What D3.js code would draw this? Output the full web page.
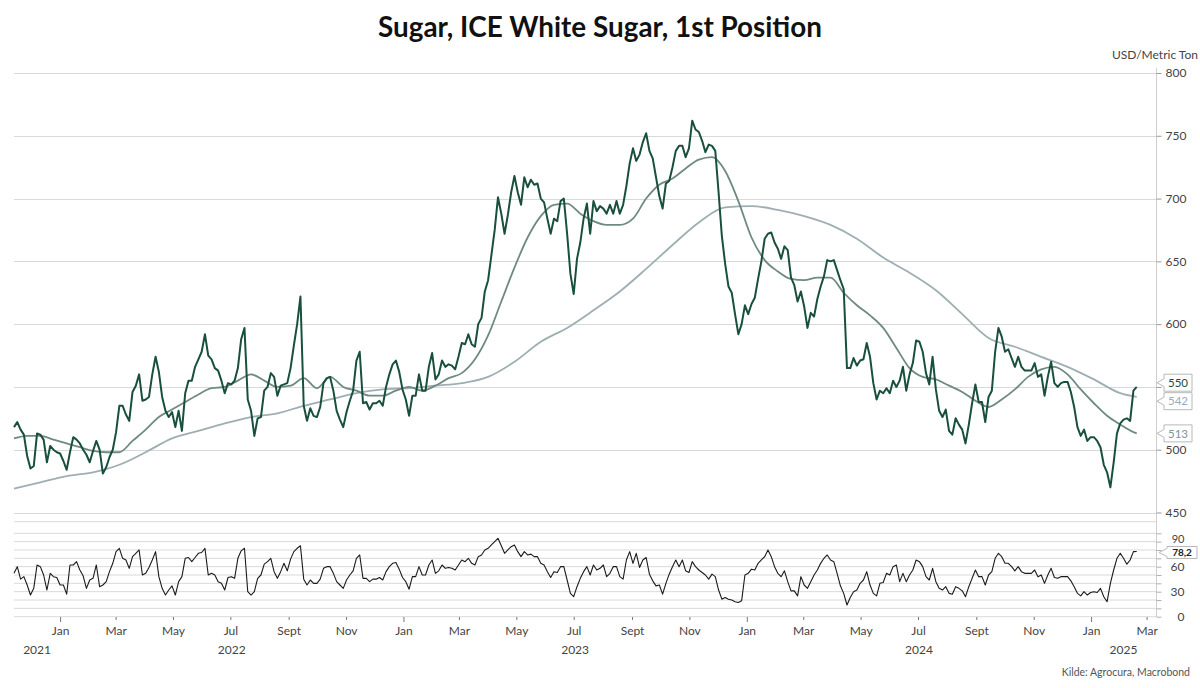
<!DOCTYPE html>
<html><head><meta charset="utf-8">
<script src="https://cdn.jsdelivr.net/npm/d3@7"></script>
<style>
body{margin:0;background:#fff;}
svg{display:block;font-family:Lato,"Open Sans",sans-serif;}
</style>
</head><body>
<svg id="chart" width="1200" height="688"></svg>
<script>
// ---------- DATA ----------
const title = "Sugar, ICE White Sugar, 1st Position";
const unitLabel = "USD/Metric Ton";
const sourceLabel = "Kilde: Agrocura, Macrobond";
const startDate = "2021-11-13";   // first observation
const stepDays = 3.5;             // spacing of observations

// ICE White Sugar, 1st position (USD/t)
const price = [
518,522,516,512,495,485,487,513,512,508,
490,503,500,498,497,491,484,498,510,508,
505,500,496,490,499,507,500,481,486,494,
500,514,535,535,528,523,546,551,560,539,
540,542,560,574,562,542,531,526,530,518,
531,515,545,555,555,566,572,578,592,575,
572,565,563,555,545,553,552,555,565,588,
597,540,531,511,525,526,547,550,561,558,
543,551,552,553,565,583,600,622,
535,523,533,527,526,534,553,557,558,547,
531,524,518,530,539,547,571,578,537,538,
532,537,537,539,535,550,560,568,571,562,
548,540,527,543,543,560,547,547,566,577,
556,560,571,566,568,567,564,574,585,584,
592,584,582,600,605,626,635,655,675,701,
688,672,687,705,718,705,695,717,709,715,
711,712,700,697,684,672,684,682,698,700,
672,640,624,652,665,684,696,672,698,690,
694,692,688,695,688,698,688,695,
710,728,740,730,735,745,752,738,732,717,
702,692,712,714,725,738,742,742,733,740,
762,755,753,746,737,743,742,738,705,670,
648,630,625,608,592,600,615,608,616,621,
636,650,668,672,673,665,660,652,662,659,
637,631,618,626,614,597,609,606,620,630,
638,651,650,651,643,635,
628,565,565,573,567,571,572,585,574,553,
540,547,545,549,545,555,550,555,566,547,
560,569,587,586,578,561,552,574,548,531,
526,532,515,512,525,520,516,505,520,537,
552,538,538,522,542,547,578,597,590,578,
580,573,566,574,566,563,563,563,569,558,
560,543,558,570,553,550,553,554,554,546,
534,518,511,516,507,510,510,507,502,488,
482,470,490,513,521,524,525,523,547,550
];

// RSI (lower panel), same dates as price
const rsi = [
52,60,45,48,38,26,34,62,60,50,
32,52,48,47,38,38,27,62,62,66,
56,49,34,44,46,62,36,38,42,54,
64,78,82,70,68,58,72,76,80,50,
52,59,68,78,48,34,26,32,37,26,
42,48,70,71,66,71,76,77,82,50,
52,50,42,40,32,47,48,46,70,79,
82,30,26,30,46,50,63,66,70,54,
46,54,64,55,69,78,82,85,
45,38,44,40,40,45,58,60,60,52,
42,38,34,44,50,55,70,74,46,46,
42,45,45,47,44,54,60,64,65,57,
47,42,33,48,48,60,50,50,62,68,
52,55,62,58,59,58,56,62,68,66,
70,64,62,72,74,80,82,86,90,94,
85,76,80,84,86,78,72,78,74,75,
72,72,64,62,54,47,54,53,60,60,
44,28,24,36,46,54,60,50,62,56,
58,
62,48,52,60,60,48,45,68,78,64,
76,59,68,71,51,43,37,38,27,40,
51,60,68,60,68,55,53,66,60,56,
53,50,45,51,48,32,21,23,21,20,
18,17,19,50,52,57,56,64,68,72,
80,72,60,52,48,55,42,31,31,25,
48,38,34,42,50,56,64,70,74,68,
66,52,37,28,14,23,30,32,40,44,
54,38,28,25,40,41,52,50,60,62,
42,
52,42,50,56,68,66,60,48,44,58,
42,34,32,36,28,27,36,34,31,24,
36,46,56,48,48,38,50,54,70,76,
72,64,64,60,55,60,54,52,52,52,
56,48,50,40,50,58,47,46,48,48,
48,43,36,28,25,30,26,29,30,29,
34,24,18,40,56,70,76,70,63,68,
78,78.2
];

// Short moving average: observation index and value
const fastIdx = [0,4,8,12,16,20,24,28,32,36,40,44,48,52,56,60,64,68,72,76,80,84,88,92,96,100,104,108,112,116,120,124,128,132,136,140,144,148,152,156,160,164,168,172,176,180,184,188,192,196,200,204,208,212,216,220,224,228,232,236,240,244,248,252,256,260,264,268,272,276,280,284,288,292,296,300,304,308,312,316,320,324,328,332,336,340,341];
const fastMA = [
509,511,511,508,505,502,499,498,498,507,
516,526,532,538,544,549,550,555,560,555,
550,551,557,549,558,550,547,543,543,547,
550,547,551,557,561,572,591,618,645,669,
686,695,696,688,682,679,679,684,700,711,
716,724,731,733,722,698,669,651,642,636,
635,637,637,625,615,607,597,581,565,558,
556,551,546,539,534,540,548,558,564,566,
560,548,537,527,520,514,513
];

// Long moving average: observation index and value
const slowIdx = [0,8,16,24,32,40,48,56,64,72,80,88,96,104,112,120,128,136,144,152,160,168,176,184,192,200,208,216,224,232,240,248,256,264,272,280,288,296,304,312,320,328,336,341];
const slowMA = [
469,474,479,482,488,498,509,515,521,526,
529,535,540,545,548,549,551,553,558,570,
586,597,611,626,644,663,681,693,694,691,
686,679,668,653,641,627,608,589,582,574,
566,556,545,542
];

const mainTicks = [450,500,550,600,650,700,750,800];
const rsiTicks = [0,30,60,90];
const rsiGrid = [0,10,20,30,40,50,60,70,80,90,100];
const monthNames = ["Jan","Feb","Mar","Apr","May","Jun","Jul","Aug","Sept","Oct","Nov","Dec"];
const years = [2021,2022,2023,2024,2025];
const axisStart = "2021-11-13", axisEnd = "2025-03-11";

// ---------- STYLE ----------
const C = {price:"#19503d", fast:"#6f8a80", slow:"#9eaeb3", rsi:"#1b1b1b", grid:"#d9d9d9", text:"#444"};

const svg = d3.select("#chart");
const t0 = new Date(startDate+"T00:00:00Z");
const dateOf = i => new Date(t0.getTime() + i*stepDays*864e5);

const x = d3.scaleUtc().domain([new Date(axisStart+"T00:00:00Z"), new Date(axisEnd+"T00:00:00Z")]).range([14,1156]);
const y = d3.scaleLinear().domain([450,800]).range([512.5,73]);
const yr = d3.scaleLinear().domain([0,100]).range([616.7,533.3]);
const axisX = 1156.5;

// end-label layout (computed early so covered tick labels can be skipped)
const lastP = price[price.length-1], lastS = slowMA[slowMA.length-1], lastF = fastMA[fastMA.length-1];
let labs = [{v:lastP,c:C.price},{v:lastS,c:"#98acbf"},{v:lastF,c:"#7d93a3"}]
  .map(d=>({...d, yy:y(d.v)})).sort((a,b)=>a.yy-b.yy);
for(let k=1;k<labs.length;k++){
  if(labs[k].yy-labs[k-1].yy<18.5){
    const mid=(labs[k].yy+labs[k-1].yy)/2; labs[k-1].yy=mid-9.25; labs[k].yy=mid+9.25;
  }
}
const covered = v => labs.some(l=>Math.abs(y(v)-l.yy)<12);

// Title
const tt = svg.append("text").attr("x",600).attr("y",37).attr("text-anchor","middle")
  .attr("font-weight",700).attr("font-size",26).attr("fill","#111").text(title);
const w = tt.node().getComputedTextLength();
tt.attr("font-size", 26*444/w);

svg.append("text").attr("x",1198).attr("y",59).attr("text-anchor","end")
  .attr("font-size",12).attr("fill",C.text).text(unitLabel);

// main gridlines
svg.append("g").selectAll("line").data(mainTicks).join("line")
  .attr("x1",14).attr("x2",axisX).attr("y1",d=>Math.round(y(d))+0.5).attr("y2",d=>Math.round(y(d))+0.5)
  .attr("stroke",C.grid).attr("stroke-width",1);
// lower gridlines
svg.append("g").selectAll("line").data(rsiGrid).join("line")
  .attr("x1",14).attr("x2",axisX).attr("y1",d=>yr(d)).attr("y2",d=>yr(d))
  .attr("stroke",C.grid).attr("stroke-width",1);
svg.append("line").attr("x1",14).attr("x2",axisX).attr("y1",521.7).attr("y2",521.7)
  .attr("stroke",C.grid);

// right axis line
svg.append("line").attr("x1",axisX).attr("x2",axisX).attr("y1",68).attr("y2",617)
  .attr("stroke","#cfcfcf");

// right axis main
const ax1 = svg.append("g").attr("transform",`translate(${axisX},0)`)
  .call(d3.axisRight(y).tickValues(mainTicks).tickSize(5).tickPadding(8)
    .tickFormat(d=>covered(d)?"":d));
ax1.select(".domain").remove();
ax1.selectAll("line").attr("stroke","#9a9a9a");
ax1.selectAll("text").attr("font-size",12).attr("fill",C.text).attr("font-family","Lato, sans-serif")
  .attr("text-anchor","end").attr("x",30);

// right axis lower
const ax2 = svg.append("g").attr("transform",`translate(${axisX},0)`)
  .call(d3.axisRight(yr).tickValues(rsiGrid).tickSize(5).tickFormat(d=>rsiTicks.includes(d)?d:""));
ax2.select(".domain").remove();
ax2.selectAll("line").attr("stroke","#b0b0b0");
ax2.selectAll("text").attr("font-size",12).attr("fill",C.text).attr("font-family","Lato, sans-serif")
  .attr("text-anchor","end").attr("x",28);
// the top label sits just above the end tag
ax2.selectAll(".tick").filter(d=>d===90).select("text").attr("font-size",11).attr("y",-3);

// x axis
const xa = svg.append("g").attr("transform","translate(0,617)")
  .call(d3.axisBottom(x).ticks(d3.utcMonth.every(2)).tickSize(3).tickPadding(6)
    .tickFormat(d=>monthNames[d.getUTCMonth()]));
xa.select(".domain").remove();
xa.selectAll("line").attr("stroke","#777").attr("y2",d=>d.getUTCMonth()===0?5:3);
xa.selectAll("text").attr("font-size",12).attr("fill",C.text).attr("font-family","Lato, sans-serif");

// years
const [xd0,xd1] = x.domain();
svg.append("g").selectAll("text").data(years).join("text")
  .attr("x",yv=>{
    const a = Math.max(+xd0, Date.UTC(yv,0,1)), b = Math.min(+xd1, Date.UTC(yv+1,0,1));
    return (x(new Date(a))+x(new Date(b)))/2;})
  .attr("y",654).attr("text-anchor","middle").attr("font-size",12).attr("fill",C.text).text(d=>d);

svg.append("text").attr("x",1190).attr("y",676).attr("text-anchor","end")
  .attr("font-size",10.5).attr("fill","#555").text(sourceLabel);

// lines
const line = d3.line().x(d=>x(d[0])).y(d=>y(d[1]));
const slowPts = slowIdx.map((k,i)=>[dateOf(k),slowMA[i]]);
const fastPts = fastIdx.map((k,i)=>[dateOf(k),fastMA[i]]);
const pricePts = price.map((v,i)=>[dateOf(i),v]);
svg.append("path").attr("d",line.curve(d3.curveMonotoneX)(slowPts)).attr("fill","none")
  .attr("stroke",C.slow).attr("stroke-width",1.8);
svg.append("path").attr("d",line.curve(d3.curveMonotoneX)(fastPts)).attr("fill","none")
  .attr("stroke",C.fast).attr("stroke-width",1.8);
svg.append("path").attr("d",line.curve(d3.curveLinear)(pricePts)).attr("fill","none")
  .attr("stroke",C.price).attr("stroke-width",2).attr("stroke-linejoin","round");

const rline = d3.line().x((d,i)=>x(dateOf(i))).y(d=>yr(d));
svg.append("path").attr("d",rline(rsi)).attr("fill","none")
  .attr("stroke",C.rsi).attr("stroke-width",1.1).attr("stroke-linejoin","round");

// end labels (tags)
function tag(cy, txt, color, bx, bw, tipX, bold, h){
  const top=cy-h/2, bot=cy+h/2;
  const p = `M${tipX},${cy} L${bx},${cy-4} L${bx},${top} L${bx+bw},${top} L${bx+bw},${bot} L${bx},${bot} L${bx},${cy+4} Z`;
  svg.append("path").attr("d",p).attr("fill","#fff").attr("stroke","#b8b8b8").attr("stroke-width",1);
  svg.append("text").attr("x",bx+bw/2).attr("y",cy).attr("dy","0.36em").attr("text-anchor","middle")
    .attr("font-size",bold?10:11.5).attr("font-weight",bold?700:400).attr("fill",color).text(txt);
}
labs.forEach(d=>tag(d.yy, d3.format(".0f")(d.v), d.c, 1164, 28, 1157, false, 17));
const lastR = rsi[rsi.length-1];
tag(yr(lastR)+1, d3.format(".1f")(lastR).replace(".",","), "#222", 1167, 30, 1159, true, 12);
</script>
</body></html>
